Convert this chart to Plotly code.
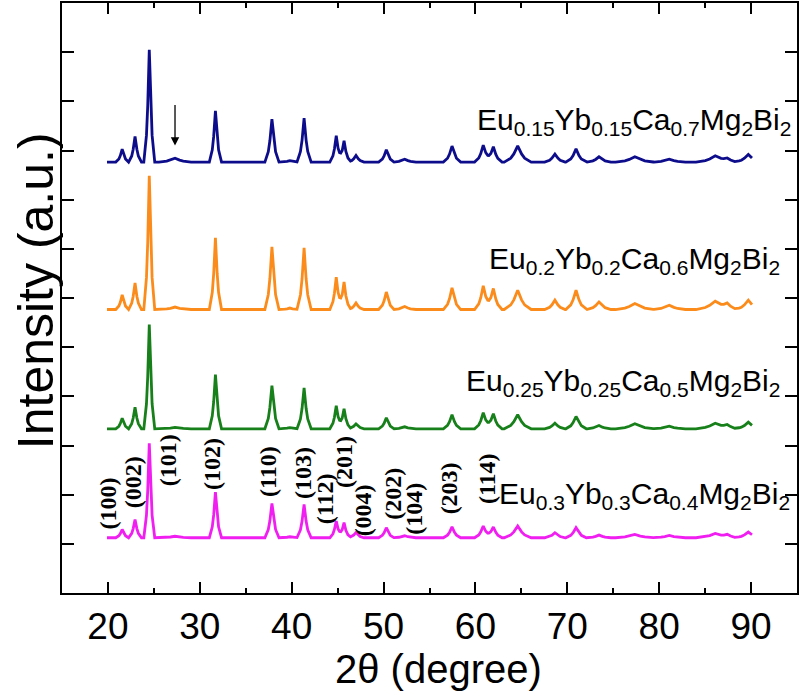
import plotly.graph_objects as go

# ---- data ----
# Bragg peak positions (2-theta, degree) and half widths (degree)
peak_2theta = [21.55, 22.95, 24.5, 27.3, 31.7, 37.85, 39.8, 41.35, 44.85, 45.7, 47.0, 50.3, 52.3,
               57.45, 60.85, 61.95, 64.6, 68.65, 70.95, 73.45, 77.35, 81.1, 86.1, 87.4, 89.7]
peak_hwhm = [0.2, 0.2, 0.17, 0.5, 0.19, 0.22, 0.3, 0.22, 0.2, 0.2, 0.25, 0.24, 0.35,
             0.27, 0.27, 0.27, 0.42, 0.32, 0.32, 0.37, 0.6, 0.5, 0.6, 0.37, 0.42]

# peak heights above each pattern's baseline (a.u.)
heights_015 = [13.2, 26.0, 114.3, 4.0, 52.2, 43.8, 1.5, 44.8, 26.8, 21.7, 6.7, 12.5, 3.0,
               16.3, 17.3, 15.6, 16.6, 8.1, 13.5, 5.4, 5.4, 3.0, 6.4, 3.0, 7.8]
heights_02 = [14.8, 27.0, 136.0, 2.5, 72.8, 63.6, 1.5, 62.6, 33.0, 28.0, 6.6, 17.8, 3.0,
              22.0, 24.0, 21.4, 19.6, 9.5, 19.6, 7.7, 6.1, 4.4, 8.4, 5.1, 9.5]
heights_025 = [10.7, 21.9, 106.0, 1.5, 55.0, 43.8, 1.2, 41.7, 23.4, 20.4, 5.0, 11.2, 2.0,
               14.3, 16.3, 15.3, 14.3, 5.7, 12.5, 3.3, 5.1, 2.6, 5.7, 3.3, 6.7]
heights_03 = [8.4, 18.6, 96.0, 1.5, 46.4, 34.9, 1.0, 33.9, 16.9, 15.3, 5.4, 10.2, 2.0,
              11.0, 11.9, 10.9, 11.9, 5.1, 10.2, 2.7, 3.3, 2.3, 4.3, 2.7, 5.8]

# vertical offsets (baselines) of the stacked patterns
baseline_015 = 438.2
baseline_02 = 288.3
baseline_025 = 167.0
baseline_03 = 56.2

scan_start = 19.9
scan_end = 90.1

series_names = ["Eu0.15Yb0.15Ca0.7Mg2Bi2", "Eu0.2Yb0.2Ca0.6Mg2Bi2",
                "Eu0.25Yb0.25Ca0.5Mg2Bi2", "Eu0.3Yb0.3Ca0.4Mg2Bi2"]
series_labels = ["Eu<sub>0.15</sub>Yb<sub>0.15</sub>Ca<sub>0.7</sub>Mg<sub>2</sub>Bi<sub>2</sub>",
                 "Eu<sub>0.2</sub>Yb<sub>0.2</sub>Ca<sub>0.6</sub>Mg<sub>2</sub>Bi<sub>2</sub>",
                 "Eu<sub>0.25</sub>Yb<sub>0.25</sub>Ca<sub>0.5</sub>Mg<sub>2</sub>Bi<sub>2</sub>",
                 "Eu<sub>0.3</sub>Yb<sub>0.3</sub>Ca<sub>0.4</sub>Mg<sub>2</sub>Bi<sub>2</sub>"]
series_colors = ["#0d0d8c", "#fb8c1c", "#17801a", "#f01ef0"]

# Miller index labels
hkl_text = ["(100)", "(002)", "(101)", "(102)", "(110)", "(103)", "(112)", "(201)",
            "(004)", "(202)", "(104)", "(203)", "(114)"]
hkl_x = [20.0, 22.66, 26.54, 31.26, 37.43, 41.18, 43.6, 45.7, 47.78, 51.05, 53.22, 57.22, 61.25]
hkl_y = [91, 113, 135, 131.7, 123.2, 121.5, 96.1, 133.4, 84.2, 101.2, 85.9, 106.3, 116.8]

x_ticks = [20, 30, 40, 50, 60, 70, 80, 90]

# ---- build outlines: peak vertices (feet, quarter, half, top) ----
prof_u = [0.0, 1.0, 1.8, 3.5]
prof_f = [1.0, 0.5, 0.24, 0.0]


def profile(u):
    u = abs(u)
    if u >= prof_u[-1]:
        return 0.0
    for i in range(len(prof_u) - 1):
        if prof_u[i] <= u <= prof_u[i + 1]:
            t = (u - prof_u[i]) / (prof_u[i + 1] - prof_u[i])
            return prof_f[i] + t * (prof_f[i + 1] - prof_f[i])
    return 0.0


def outline(base, heights):
    xs = {scan_start, scan_end}
    for p, w in zip(peak_2theta, peak_hwhm):
        for u in prof_u:
            for s in (-1, 1):
                x = p + s * u * w
                if scan_start <= x <= scan_end:
                    xs.add(round(x, 4))
    xs = sorted(xs)
    ys = []
    for x in xs:
        y = base
        for p, w, h in zip(peak_2theta, peak_hwhm, heights):
            y += h * profile((x - p) / w)
        ys.append(y)
    return xs, ys


fig = go.Figure()
all_heights = [heights_015, heights_02, heights_025, heights_03]
all_bases = [baseline_015, baseline_02, baseline_025, baseline_03]
for name, col, hts, b in zip(series_names, series_colors, all_heights, all_bases):
    xs, ys = outline(b, hts)
    fig.add_trace(go.Scatter(x=xs, y=ys, mode="lines", name=name,
                             line=dict(color=col, width=2.8), showlegend=False,
                             hoverinfo="skip"))

annotations = []
label_x = [0.994, 0.979, 0.979, 0.993]
label_y = [480, 337.7, 214, 99.5]
for txt, lx, ly in zip(series_labels, label_x, label_y):
    annotations.append(dict(text=txt, xref="paper", yref="y", x=lx, y=ly,
                            xanchor="right", yanchor="middle", showarrow=False,
                            font=dict(family="Arial, Liberation Sans", size=30, color="black")))

for t, hx, hy in zip(hkl_text, hkl_x, hkl_y):
    annotations.append(dict(text=t, x=hx, y=hy, xref="x", yref="y", textangle=-90,
                            xanchor="center", yanchor="middle", showarrow=False,
                            font=dict(family="Liberation Serif, Times New Roman", size=24,
                                      color="black", weight="bold")))

# arrow marking impurity peak
annotations.append(dict(x=27.3, y=455, xref="x", yref="y", ax=0, ay=-42, text="",
                        showarrow=True, arrowhead=2, arrowsize=1.3, arrowwidth=1.3,
                        arrowcolor="black"))

# axis titles
annotations.append(dict(text="Intensity (a.u.)", xref="paper", yref="paper", x=-0.035, y=0.512,
                        textangle=-90, xanchor="center", yanchor="middle", showarrow=False,
                        font=dict(family="Arial, Liberation Sans", size=50, color="black")))
annotations.append(dict(text="2\u03b8 (degree)", xref="paper", yref="paper", x=0.512, y=-0.128,
                        xanchor="center", yanchor="middle", showarrow=False,
                        font=dict(family="Arial, Liberation Sans", size=40, color="black")))

fig.update_layout(
    width=802, height=693,
    margin=dict(l=62, r=5, t=3, b=100, autoexpand=False),
    paper_bgcolor="white", plot_bgcolor="white",
    annotations=annotations,
    xaxis=dict(range=[15, 95], tickvals=x_ticks, ticks="inside", ticklen=11, tickwidth=2,
               tickcolor="black", showline=True, linewidth=2, linecolor="black", mirror="ticks",
               showgrid=False, zeroline=False, automargin=False,
               minor=dict(dtick=5, tick0=0, ticks="inside", ticklen=5, tickwidth=2, tickcolor="black"),
               tickfont=dict(family="Arial, Liberation Sans", size=37, color="black")),
    yaxis=dict(range=[0, 600], dtick=50, tick0=0, ticks="inside", ticklen=12, tickwidth=2,
               tickcolor="black", showline=True, linewidth=2, linecolor="black", mirror="ticks",
               showgrid=False, zeroline=False, showticklabels=False, automargin=False),
)

fig.write_html("out.html", config={"displayModeBar": False},
               post_script="document.body.style.margin='0px';document.body.style.overflow='hidden';")
